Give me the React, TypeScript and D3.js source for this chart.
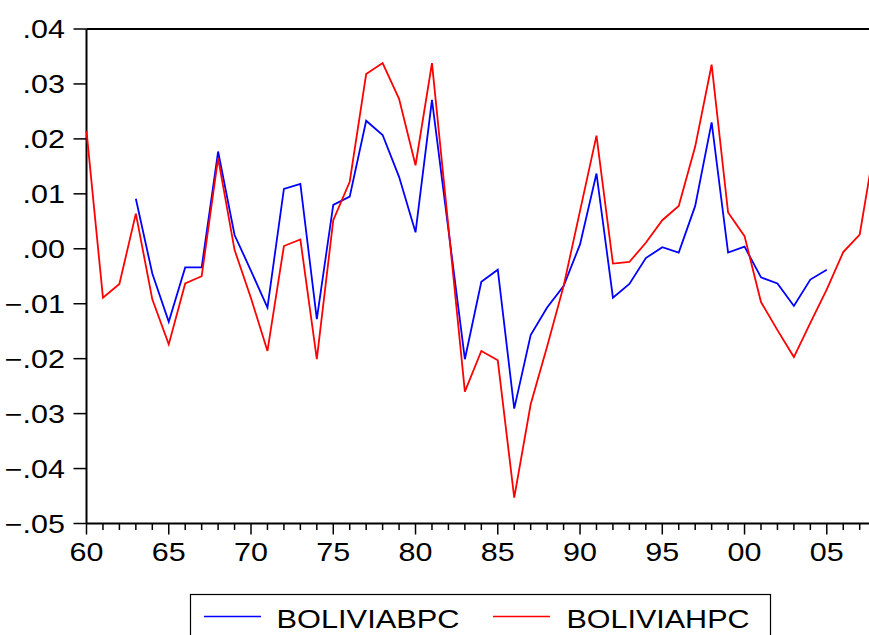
import React, { useEffect, useRef } from 'react';
import * as d3 from 'd3';

// BOLIVIAHPC, 1960-2008
const hpcYears = d3.range(1960, 2009);
const hpcValues = [
  0.0214, -0.0089, -0.0064, 0.0064, -0.0092, -0.0174, -0.0063, -0.005, 0.0165, -0.0002,
  -0.009, -0.0186, 0.0005, 0.0017, -0.0201, 0.0052, 0.0122, 0.0318, 0.0338, 0.0273,
  0.0152, 0.0338, 0.004, -0.026, -0.0186, -0.0203, -0.0453, -0.0283, -0.0178, -0.0068,
  0.0069, 0.0206, -0.0027, -0.0024, 0.0011, 0.0052, 0.0078, 0.0186, 0.0335, 0.0066,
  0.0023, -0.0097, -0.0148, -0.0197, -0.0135, -0.0074, -0.0006, 0.0026, 0.0204,
];

// BOLIVIABPC, 1963-2005
const bpcYears = d3.range(1963, 2006);
const bpcValues = [
  0.0091, -0.0045, -0.0133, -0.0034, -0.0034, 0.0177, 0.0025, -0.004, -0.0107, 0.0109,
  0.0118, -0.0128, 0.008, 0.0095, 0.0233, 0.0207, 0.0131, 0.003, 0.0271, 0.0035,
  -0.0201, -0.006, -0.0038, -0.0291, -0.0157, -0.0107, -0.0068, 0.0008, 0.0137, -0.0089,
  -0.0064, -0.0017, 0.0003, -0.0007, 0.0078, 0.023, -0.0007, 0.0004, -0.0052, -0.0063,
  -0.0104, -0.0056, -0.0038,
];

const yTicks = [0.04, 0.03, 0.02, 0.01, 0, -0.01, -0.02, -0.03, -0.04, -0.05];
const xMajorTicks = [1960, 1965, 1970, 1975, 1980, 1985, 1990, 1995, 2000, 2005];
const seriesNames = ['BOLIVIABPC', 'BOLIVIAHPC'];
const seriesColors = ['#0000ff', '#ff0000'];

const W = 869;
const H = 635;
const FONT = '"Liberation Sans", Arial, sans-serif';
const STRETCH = 1.22; // the original text is drawn a bit wide

const App = () => {
  const svgRef = useRef(null);

  useEffect(() => {
    const svg = d3.select(svgRef.current);
    svg.selectAll('*').remove();

    const x = d3.scaleLinear().domain([1960, 2009]).range([86.5, 892.6]);
    const y = d3.scaleLinear().domain([-0.05, 0.04]).range([523.5, 29]);

    const fmtY = (v) => d3.format('.2f')(v).replace('0.', '.');
    const fmtX = (v) => String(v % 100).padStart(2, '0');

    const addText = (g, tx, ty, txt, anchor, size) =>
      g.append('text')
        .attr('transform', `translate(${tx},${ty}) scale(${STRETCH},1)`)
        .attr('text-anchor', anchor)
        .style('font-family', FONT)
        .style('font-size', `${size}px`)
        .attr('fill', '#000')
        .text(txt);

    // top edge of the frame
    svg.append('line')
      .attr('x1', x(1960)).attr('x2', W + 10)
      .attr('y1', y(0.04)).attr('y2', y(0.04))
      .attr('stroke', '#000').attr('stroke-width', 2);

    // y axis
    const yAxis = svg.append('g');
    yAxis.append('line')
      .attr('x1', x(1960)).attr('x2', x(1960))
      .attr('y1', y(0.04)).attr('y2', y(-0.05))
      .attr('stroke', '#000').attr('stroke-width', 2);
    yTicks.forEach((t) => {
      yAxis.append('line')
        .attr('x1', x(1960) - 13).attr('x2', x(1960))
        .attr('y1', y(t)).attr('y2', y(t))
        .attr('stroke', '#000').attr('stroke-width', 1.5);
      addText(yAxis, 65, y(t) + 9, fmtY(t), 'end', 25);
    });

    // x axis
    const xAxis = svg.append('g');
    xAxis.append('line')
      .attr('x1', x(1960)).attr('x2', W + 10)
      .attr('y1', y(-0.05)).attr('y2', y(-0.05))
      .attr('stroke', '#000').attr('stroke-width', 2);
    d3.range(1960, 2010).forEach((yr) => {
      const major = xMajorTicks.includes(yr);
      xAxis.append('line')
        .attr('x1', x(yr)).attr('x2', x(yr))
        .attr('y1', y(-0.05)).attr('y2', y(-0.05) + (major ? 11 : 6.5))
        .attr('stroke', '#000').attr('stroke-width', 1.5);
    });
    xMajorTicks.forEach((t) => {
      addText(xAxis, x(t), 561, fmtX(t), 'middle', 25);
    });

    // series lines
    const line = d3.line()
      .x((d) => x(d[0]))
      .y((d) => y(d[1]));

    const bpc = bpcYears.map((yr, i) => [yr, bpcValues[i]]);
    const hpc = hpcYears.map((yr, i) => [yr, hpcValues[i]]);

    svg.append('path')
      .datum(bpc)
      .attr('d', line)
      .attr('fill', 'none')
      .attr('stroke', seriesColors[0])
      .attr('stroke-width', 1.8);

    svg.append('path')
      .datum(hpc)
      .attr('d', line)
      .attr('fill', 'none')
      .attr('stroke', seriesColors[1])
      .attr('stroke-width', 1.8);

    // legend
    const legend = svg.append('g');
    legend.append('rect')
      .attr('x', 190.5).attr('y', 594.5)
      .attr('width', 580).attr('height', 60)
      .attr('fill', 'none')
      .attr('stroke', '#000').attr('stroke-width', 1.2);

    const items = [
      { lx: 204, tx: 276.5 },
      { lx: 493, tx: 566.5 },
    ];
    items.forEach((it, i) => {
      legend.append('line')
        .attr('x1', it.lx).attr('x2', it.lx + 57)
        .attr('y1', 616.5).attr('y2', 616.5)
        .attr('stroke', seriesColors[i]).attr('stroke-width', 1.6);
      legend.append('text')
        .attr('x', it.tx).attr('y', 627.5)
        .attr('textLength', 183)
        .attr('lengthAdjust', 'spacingAndGlyphs')
        .style('font-family', FONT)
        .style('font-size', '25px')
        .attr('fill', '#000')
        .text(seriesNames[i]);
    });
  }, []);

  return (
    <svg
      ref={svgRef}
      width={W}
      height={H}
      style={{ position: 'absolute', left: 0, top: 0, background: '#fff', overflow: 'hidden' }}
    />
  );
};

export default App;
